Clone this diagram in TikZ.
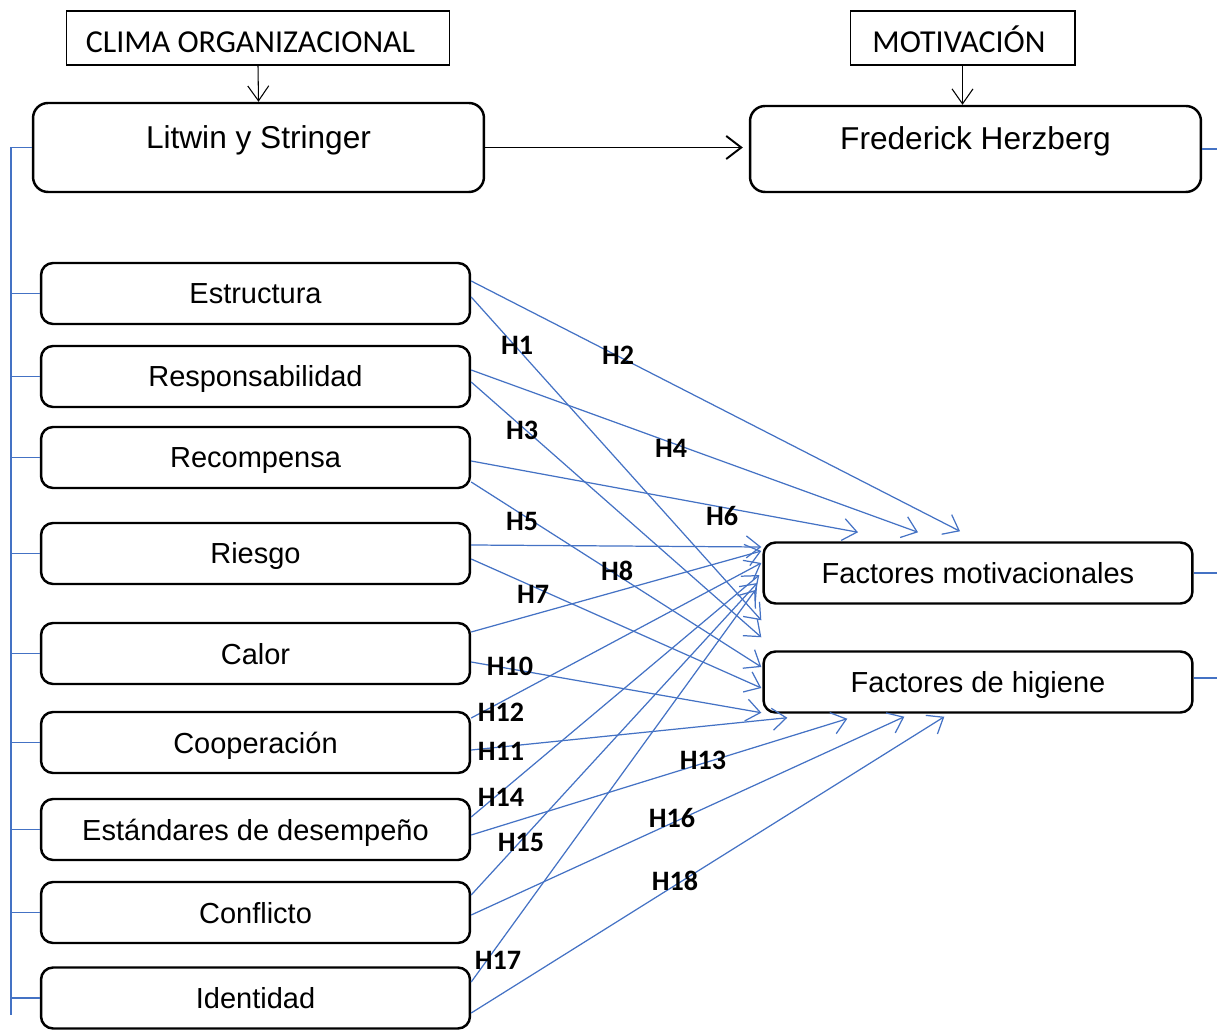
\documentclass[tikz,border=0pt]{standalone}
\usepackage{fontspec}
\setmainfont{Liberation Sans}
\newfontfamily\calibri{Carlito}
\usetikzlibrary{arrows.meta,calc}
\definecolor{hblue}{RGB}{68,114,196}
\begin{document}
\begin{tikzpicture}[x=0.02cm, y=-0.02cm,
  every node/.style={font=\fontsize{16.5}{20}\selectfont},
  title/.style={draw, line width=0.6pt, minimum height=1.08cm,
    text height=0.6cm, text depth=0cm,
    font=\calibri\fontsize{18.2}{22}\selectfont},
  theory/.style={draw, rounded corners=0.3cm, line width=1.4pt,
    minimum width=9.02cm, text depth=0.43cm, font=\fontsize{18}{22}\selectfont},
  factor/.style={draw, rounded corners=0.24cm, line width=1.4pt,
    minimum width=8.58cm, minimum height=1.22cm,
    text height=0.52cm, text depth=0.1cm},
  link/.style={hblue, line width=0.7pt},
  hyp/.style={link, -{Straight Barb[length=2.8mm,width=4.4mm]}},
  down/.style={line width=0.6pt, -{Straight Barb[length=3mm,width=4.2mm]}},
  hlab/.style={font=\calibri\bfseries\fontsize{16}{19}\selectfont}]
  \useasboundingbox (0,0) rectangle (1217,1030);
  % Titles and theories
  \node[title, minimum width=7.68cm] (clima) at (258,38) {CLIMA ORGANIZACIONAL\hspace*{0.3cm}};
  \node[title, minimum width=4.5cm] (motiv) at (962.5,38) {MOTIVACIÓN\hspace*{0.14cm}};
  \node[theory, minimum height=1.78cm] (litwin) at (258.5,147.5) {Litwin y Stringer};
  \node[theory, minimum height=1.72cm] (herzberg) at (975.5,149) {Frederick Herzberg};
  \draw[down] (clima.south) -- (litwin.north);
  \draw[down] (motiv.south) -- (motiv.south |- herzberg.north);
  \draw[line width=1.1pt, -{Straight Barb[length=3mm,width=4.6mm]}, shorten >=0.12cm]
    (litwin.east) -- (litwin.east -| herzberg.west);
  % Dimensions
  \node[factor] (estructura) at (255.5,293.5) {Estructura};
  \node[factor] (responsab) at (255.5,376.5) {Responsabilidad};
  \node[factor] (recompensa) at (255.5,457.5) {Recompensa};
  \node[factor] (riesgo) at (255.5,553.5) {Riesgo};
  \node[factor] (calor) at (255.5,653.5) {Calor};
  \node[factor] (cooperacion) at (255.5,742.5) {Cooperación};
  \node[factor] (estandares) at (255.5,829.5) {Estándares de desempeño};
  \node[factor] (conflicto) at (255.5,912.5) {Conflicto};
  \node[factor] (identidad) at (255.5,998) {Identidad};
  \node[factor] (motivac) at (978,573) {Factores motivacionales};
  \node[factor] (higiene) at (978,682) {Factores de higiene};
  % Left rail and right stubs
  \coordinate (railbot) at (11,1015);
  \coordinate (rim) at (1217,0);
  \draw[link] (litwin.west) -| (railbot);
  \draw[link] (estructura.west) -- (estructura.west -| railbot);
  \draw[link] (responsab.west) -- (responsab.west -| railbot);
  \draw[link] (recompensa.west) -- (recompensa.west -| railbot);
  \draw[link] (riesgo.west) -- (riesgo.west -| railbot);
  \draw[link] (calor.west) -- (calor.west -| railbot);
  \draw[link] (cooperacion.west) -- (cooperacion.west -| railbot);
  \draw[link] (estandares.west) -- (estandares.west -| railbot);
  \draw[link] (conflicto.west) -- (conflicto.west -| railbot);
  \draw[link] (identidad.west) -- (identidad.west -| railbot);
  \draw[link] (herzberg.east) -- (herzberg.east -| rim);
  \draw[link] (motivac.east) -- (motivac.east -| rim);
  \draw[link] ($(higiene.east)+(0,-4)$) -- ($(higiene.east -| rim)+(0,-4)$);
  % Hypotheses
  \draw[hyp] ($(estructura.east)+(0,-12.5)$) -- ($(motivac.north)+(-18,-10)$);
  \draw[hyp] ($(estructura.east)+(0,3.5)$) -- ($(higiene.north west)+(-1,-30)$);
  \draw[hyp] ($(responsab.east)+(0,-6.5)$) -- ($(motivac.north)+(-60,-9)$);
  \draw[hyp] ($(responsab.east)+(0,5.5)$) -- ($(higiene.north west)+(-1,-13)$);
  \draw[hyp] ($(recompensa.east)+(0,3.5)$) -- ($(motivac.north)+(-120,-9)$);
  \draw[hyp] ($(recompensa.east)+(0,24.5)$) -- ($(higiene.west)+(-1,-15)$);
  \draw[hyp] ($(riesgo.east)+(0,-8.5)$) -- ($(motivac.west)+(-1,-26)$);
  \draw[hyp] ($(riesgo.east)+(0,5.5)$) -- ($(higiene.west)+(-1,6)$);
  \draw[hyp] ($(calor.east)+(0,-21.5)$) -- ($(motivac.west)+(-1,-22)$);
  \draw[hyp] ($(calor.east)+(0,8.5)$) -- ($(higiene.south west)+(-1,-1)$);
  \draw[hyp] ($(cooperacion.east)+(0,-24.5)$) -- ($(motivac.west)+(-1,-10)$);
  \draw[hyp] ($(cooperacion.east)+(0,7.5)$) -- ($(higiene.south west)+(25,4)$);
  \draw[hyp] ($(estandares.east)+(0,-12.5)$) -- ($(motivac.west)+(-3,2)$);
  \draw[hyp] ($(estandares.east)+(0,5.5)$) -- ($(higiene.south west)+(85,5)$);
  \draw[hyp] ($(conflicto.east)+(0,-17.5)$) -- ($(motivac.west)+(-5,10)$);
  \draw[hyp] ($(conflicto.east)+(0,2.5)$) -- ($(higiene.south west)+(142,3)$);
  \draw[hyp] ($(identidad.east)+(0,-16)$) -- ($(motivac.west)+(-7,17)$);
  \draw[hyp] ($(identidad.east)+(0,15)$) -- ($(higiene.south west)+(182,3)$);
  % Labels
  \node[hlab] (h1) at (517,345) {H1};
  \node[hlab] (h2) at (618,355) {H2};
  \node[hlab] (h3) at (522,430) {H3};
  \node[hlab] (h4) at (671,448) {H4};
  \node[hlab] (h5) at (522,521) {H5};
  \node[hlab] (h6) at (722,516) {H6};
  \node[hlab] (h7) at (533,594) {H7};
  \node[hlab] (h8) at (617,571) {H8};
  \node[hlab] (h10) at (510,666) {H10};
  \node[hlab] (h12) at (501,712) {H12};
  \node[hlab] (h11) at (501,751) {H11};
  \node[hlab] (h13) at (703,760) {H13};
  \node[hlab] (h14) at (501,797) {H14};
  \node[hlab] (h15) at (521,842) {H15};
  \node[hlab] (h16) at (672,818) {H16};
  \node[hlab] (h18) at (675,881) {H18};
  \node[hlab] (h17) at (498,960) {H17};
\end{tikzpicture}
\end{document}
